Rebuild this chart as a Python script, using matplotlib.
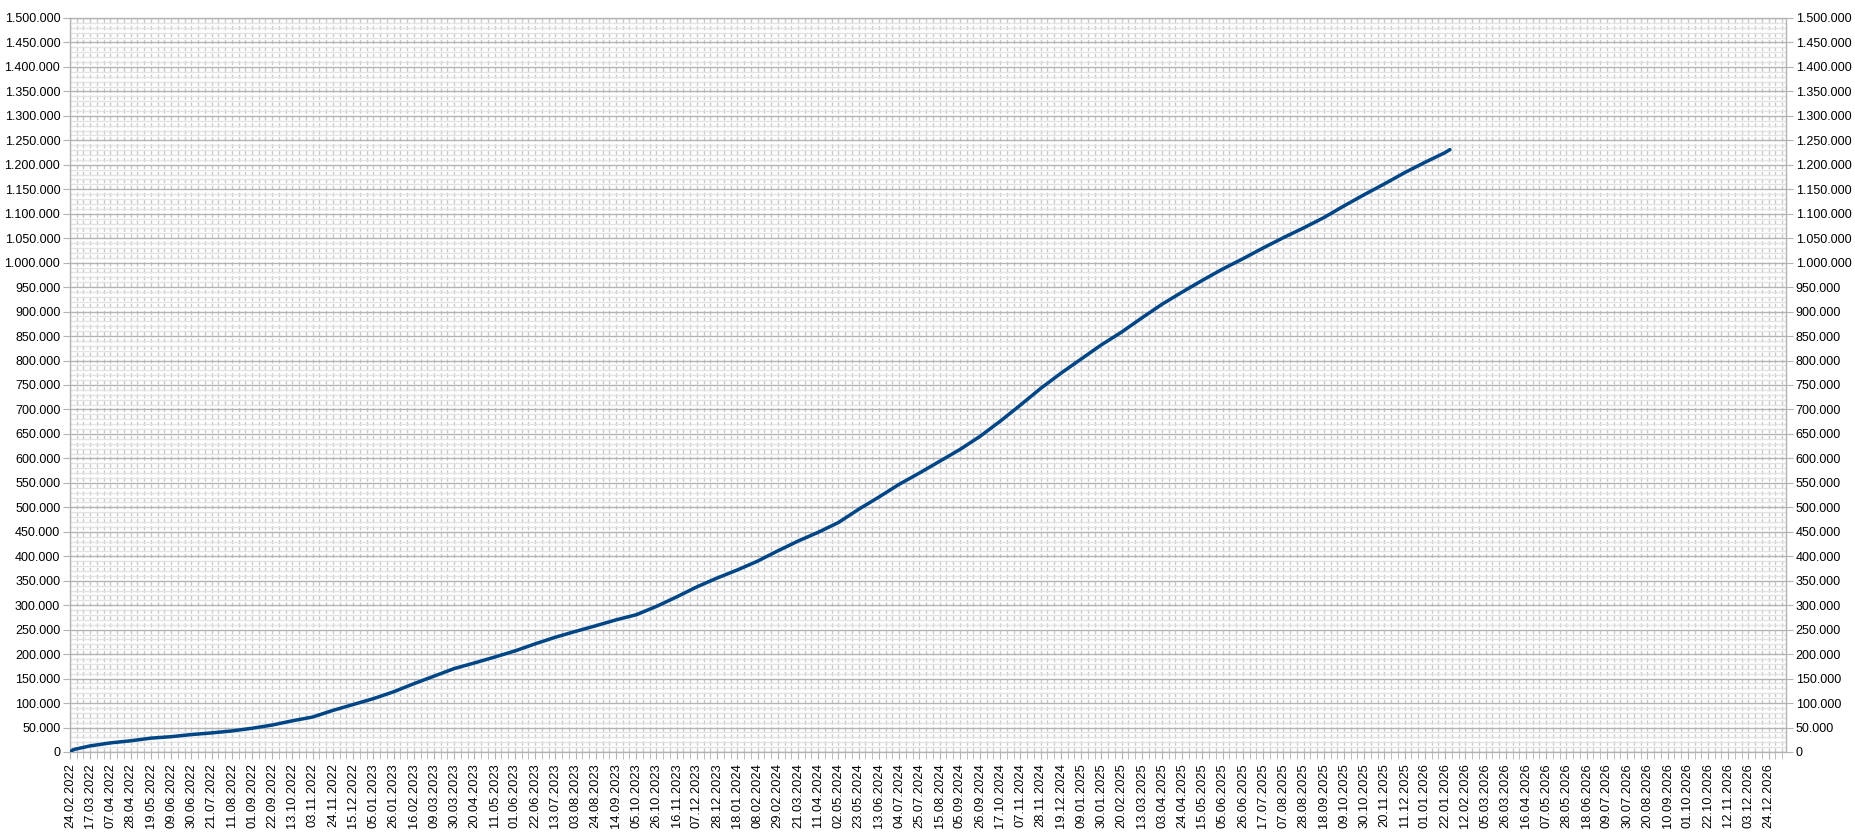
import numpy as np
import pandas as pd
import matplotlib
matplotlib.use("Agg")
import matplotlib.pyplot as plt
import matplotlib.dates as mdates
from matplotlib.ticker import FuncFormatter, MultipleLocator

plt.rcParams['font.family'] = ['Liberation Sans', 'DejaVu Sans']

# Values (cumulative total)
dates = [
    "2022-02-24", "2022-02-27", "2022-03-02", "2022-03-17", "2022-04-07", "2022-04-28",
    "2022-05-19", "2022-06-09", "2022-06-30", "2022-07-21", "2022-08-11", "2022-09-01",
    "2022-09-22", "2022-10-13", "2022-11-03", "2022-11-24", "2022-12-15", "2023-01-05",
    "2023-01-26", "2023-02-16", "2023-03-09", "2023-03-30", "2023-04-20", "2023-05-11",
    "2023-06-01", "2023-06-22", "2023-07-13", "2023-08-03", "2023-08-24", "2023-09-14",
    "2023-10-05", "2023-10-26", "2023-11-16", "2023-12-07", "2023-12-28", "2024-01-18",
    "2024-02-08", "2024-02-29", "2024-03-21", "2024-04-11", "2024-05-02", "2024-05-23",
    "2024-06-13", "2024-07-04", "2024-07-25", "2024-08-15", "2024-09-05", "2024-09-26",
    "2024-10-17", "2024-11-07", "2024-11-28", "2024-12-19", "2025-01-09", "2025-01-30",
    "2025-02-20", "2025-03-13", "2025-04-03", "2025-04-24", "2025-05-15", "2025-06-05",
    "2025-06-26", "2025-07-17", "2025-08-07", "2025-08-28", "2025-09-18", "2025-10-09",
    "2025-10-30", "2025-11-20", "2025-12-11", "2026-01-01", "2026-01-22", "2026-01-27",
]
totals = [
    0, 4300, 6000, 12500, 18600, 22900,
    28300, 31300, 35600, 39000, 43000, 48500,
    55100, 63800, 71500, 85000, 97000, 109000,
    123000, 139500, 155000, 170500, 182000, 194000,
    206500, 221000, 234500, 246500, 258000, 270000,
    280500, 297500, 317000, 337500, 355500, 372000,
    390000, 411000, 431000, 449000, 469000, 496000,
    521000, 547000, 570000, 594000, 618000, 645000,
    676000, 709000, 743000, 774000, 803000, 832000,
    858000, 887000, 915000, 940000, 964000, 987000,
    1008000, 1030000, 1051000, 1071000, 1092000, 1116000,
    1139000, 1161000, 1184000, 1205000, 1225000, 1231000,
]

x = pd.to_datetime(dates)
y = np.array(totals)

fig, ax = plt.subplots(figsize=(18.55, 8.39), dpi=100)
fig.subplots_adjust(left=70 / 1855, right=1786 / 1855, top=1 - 18 / 839, bottom=1 - 752 / 839)

ax.plot(x, y, color='#004586', lw=2.5, solid_capstyle='round', zorder=3)

start = pd.Timestamp("2022-02-24")
ax.set_xlim(start, pd.Timestamp("2027-01-11"))
ax.set_ylim(0, 1500000)

# x ticks: labels every 21 days, minor marks every 7 days
major = pd.date_range(start, "2026-12-31", freq="21D")
minor = pd.date_range(start, "2027-01-10", freq="7D")
ax.set_xticks(mdates.date2num(major))
ax.set_xticks(mdates.date2num(minor), minor=True)
ax.xaxis.set_major_formatter(mdates.DateFormatter("%d.%m.%Y"))
for lab in ax.get_xticklabels():
    lab.set_rotation(90)

ax.yaxis.set_major_locator(MultipleLocator(50000))
ax.yaxis.set_minor_locator(MultipleLocator(10000))
ax.yaxis.set_major_formatter(FuncFormatter(lambda v, p: f"{int(v):,}".replace(",", ".")))

ax.grid(True, axis='y', which='major', color='#b3b3b3', lw=1.0, zorder=1)
ax.grid(True, axis='y', which='minor', color='#e3e3e3', lw=1.0, zorder=0)
ax.grid(True, axis='x', which='both', color='#c8c8c8', lw=1.0, ls=(0, (3, 2)), zorder=0)

for s in ax.spines.values():
    s.set_color('#b3b3b3')
    s.set_linewidth(1.0)

ax.tick_params(axis='both', which='both', color='#b3b3b3', direction='out')
ax.tick_params(axis='y', which='major', length=5, labelsize=9.0, pad=2,
               labelright=True, right=True)
ax.tick_params(axis='y', which='minor', length=0)
ax.tick_params(axis='x', which='major', length=5, labelsize=9.3, pad=3)
ax.tick_params(axis='x', which='minor', length=5)

plt.savefig("out.png", dpi=100)
